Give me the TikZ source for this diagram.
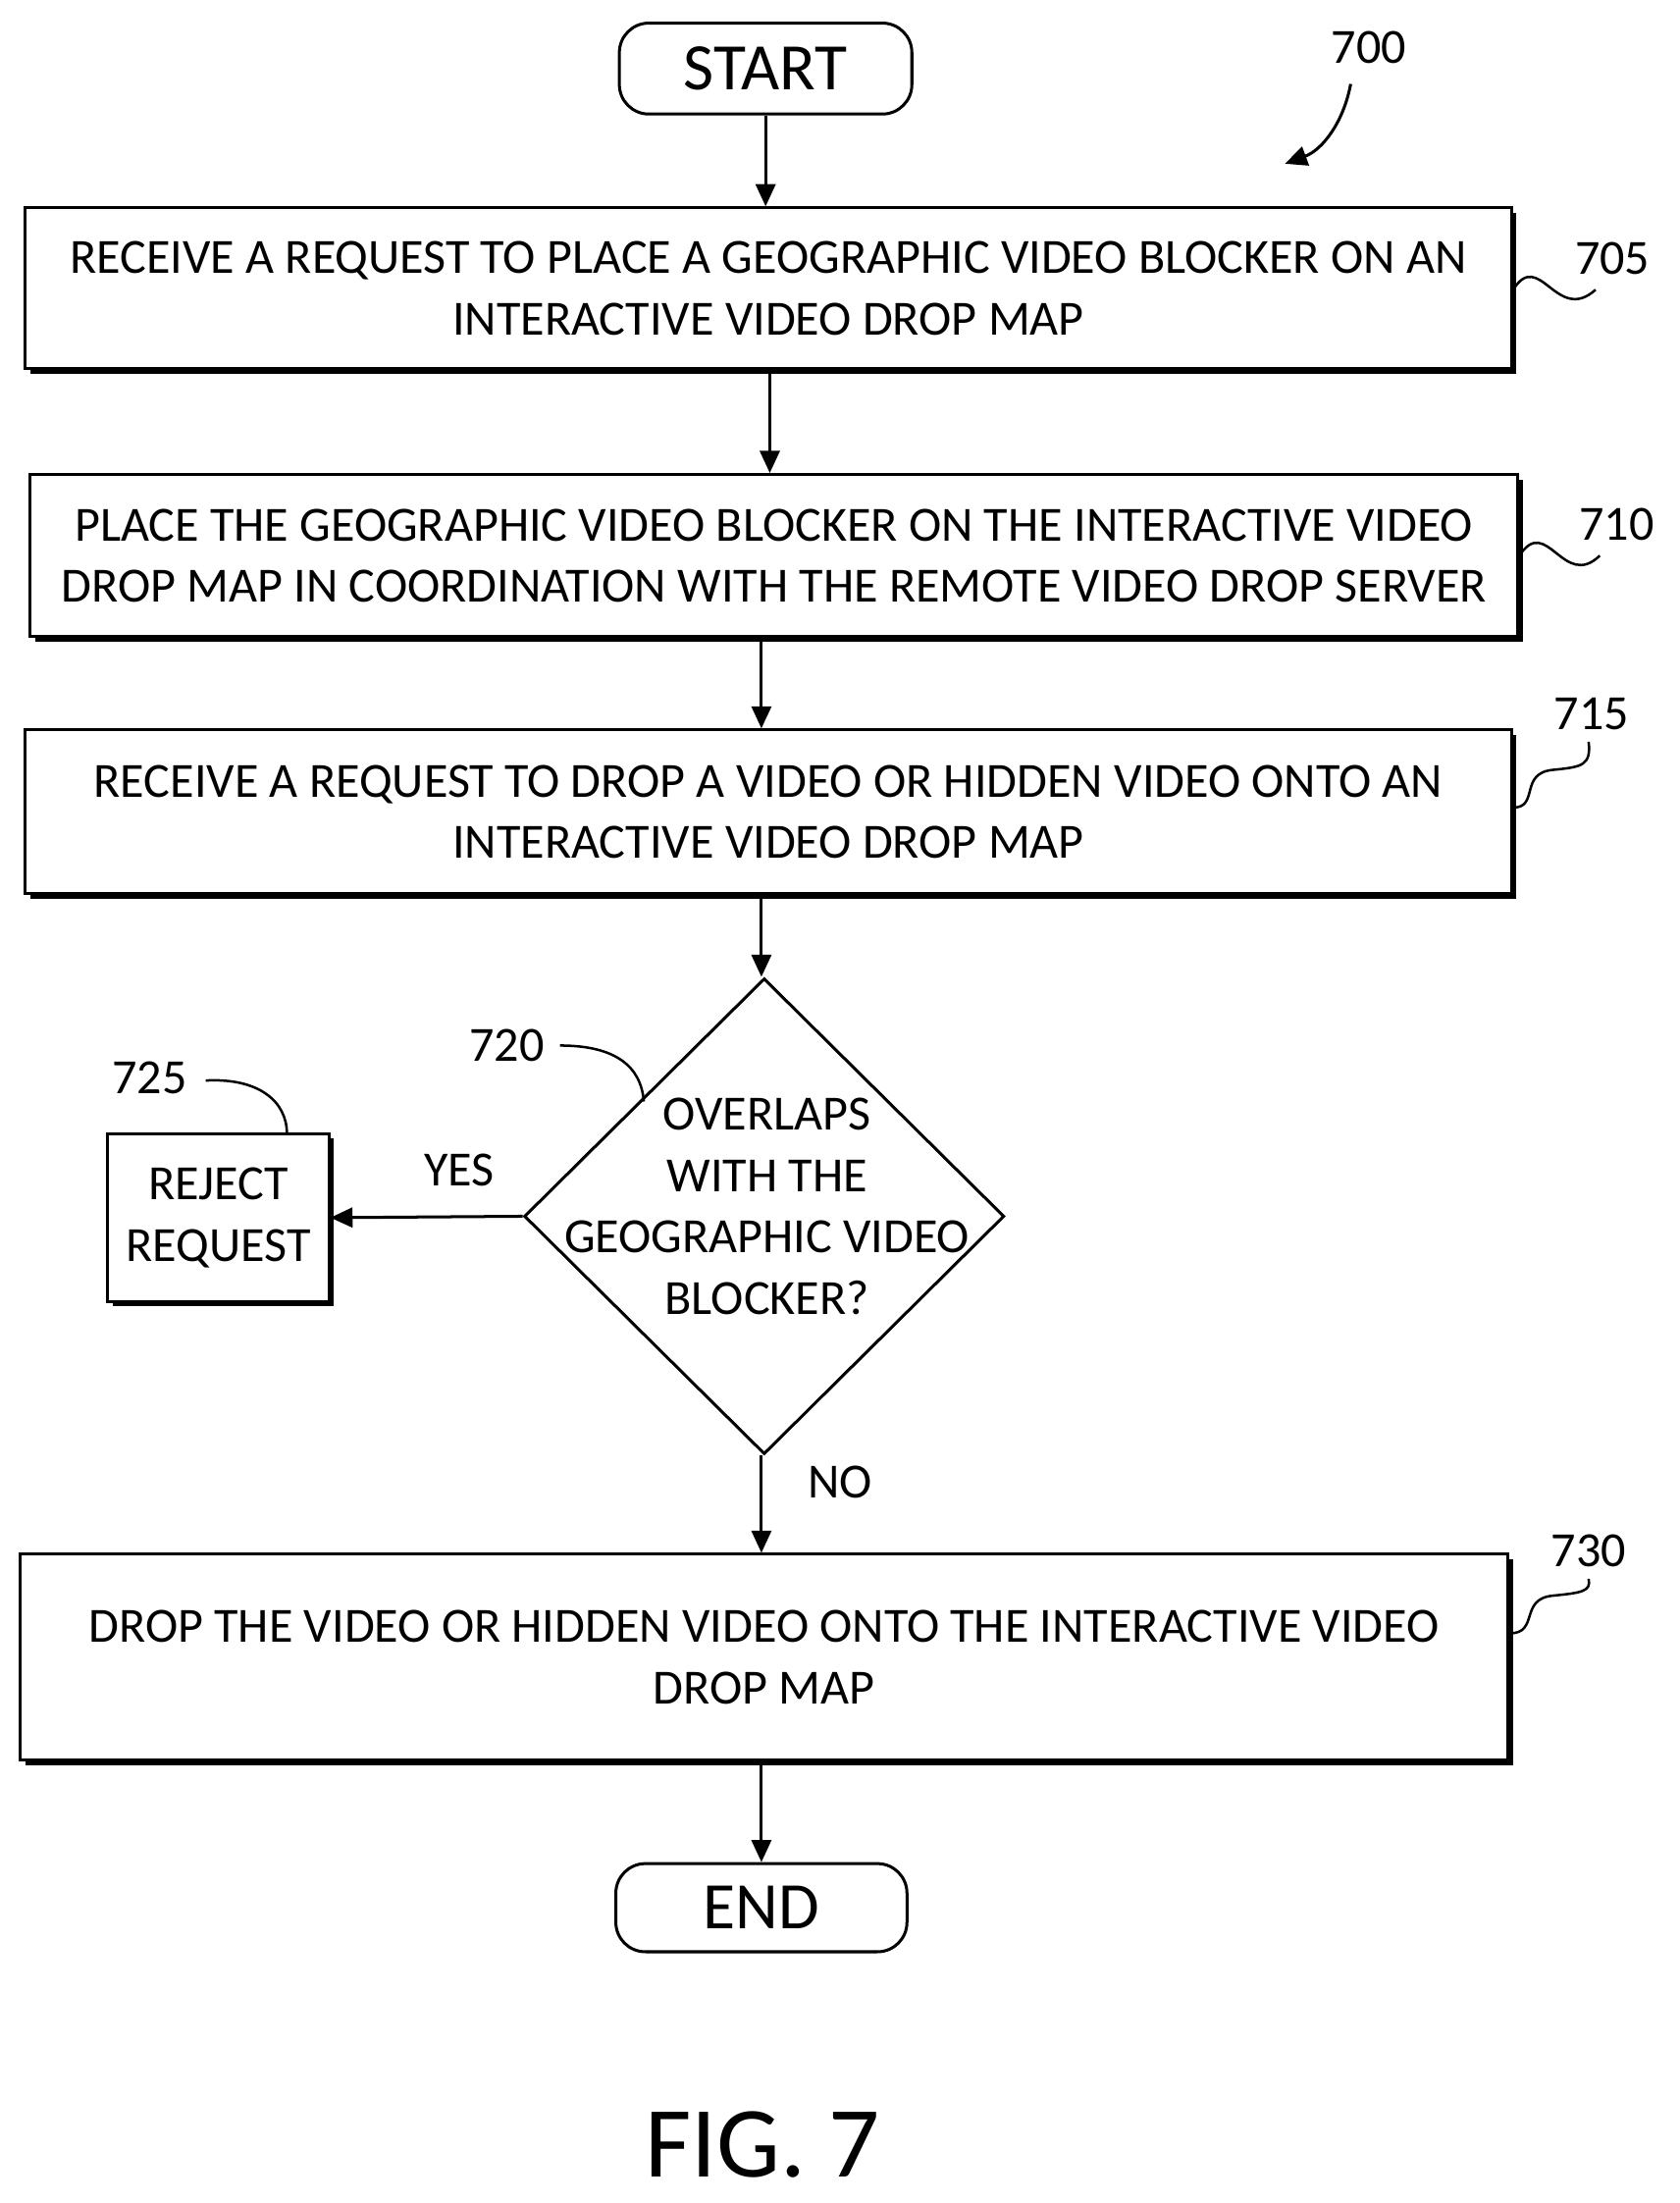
\documentclass[tikz,border=0pt]{standalone}
\usepackage{fontspec}
\setmainfont{Carlito}
\usetikzlibrary{shapes.geometric,arrows.meta,shadows}
\begin{document}
\begin{tikzpicture}[x=0.02cm,y=-0.02cm,
  box/.style={draw,line width=1.2pt,fill=white,align=center,font=\fontsize{20}{25}\selectfont,inner sep=0pt,
    general shadow={fill=black,shadow xshift=2pt,shadow yshift=-2pt}},
  term/.style={draw,line width=1.2pt,rounded corners=12pt,font=\fontsize{27}{30}\selectfont,inner sep=0pt},
  arr/.style={line width=1.2pt,-{Triangle[length=9pt,width=8pt]}},
  lbl/.style={font=\fontsize{20}{22}\selectfont},
  lead/.style={line width=1pt}]
\useasboundingbox (0,0) rectangle (1200,1574);
\node[term,minimum width=209*0.02cm,minimum height=65*0.02cm] (start) at (547,49) {START};
\node[box,minimum width=1062*0.02cm,minimum height=115*0.02cm] (b705) at (549,206) {RECEIVE A REQUEST TO PLACE A GEOGRAPHIC VIDEO BLOCKER ON AN\\INTERACTIVE VIDEO DROP MAP};
\node[box,minimum width=1063*0.02cm,minimum height=116*0.02cm] (b710) at (553,397) {PLACE THE GEOGRAPHIC VIDEO BLOCKER ON THE INTERACTIVE VIDEO\\DROP MAP IN COORDINATION WITH THE REMOTE VIDEO DROP SERVER};
\node[box,minimum width=1062*0.02cm,minimum height=117*0.02cm] (b715) at (549,580) {RECEIVE A REQUEST TO DROP A VIDEO OR HIDDEN VIDEO ONTO AN\\INTERACTIVE VIDEO DROP MAP};
\node[draw,line width=1.2pt,diamond,minimum width=343*0.02cm,minimum height=340*0.02cm,inner sep=0pt] (d720) at (546,869) {};
\node[align=center,font=\fontsize{20}{25}\selectfont] at (548,862) {OVERLAPS\\WITH THE\\GEOGRAPHIC VIDEO\\BLOCKER?};
\node[box,minimum width=158*0.02cm,minimum height=120*0.02cm] (b725) at (156,870) {REJECT\\REQUEST};
\node[box,minimum width=1063*0.02cm,minimum height=147*0.02cm] (b730) at (546,1184) {DROP THE VIDEO OR HIDDEN VIDEO ONTO THE INTERACTIVE VIDEO\\DROP MAP};
\node[term,minimum width=208*0.02cm,minimum height=63*0.02cm] (end) at (544,1363) {END};
\node[font=\fontsize{41}{44}\selectfont] (fig) at (545,1532) {FIG. 7};
\draw[arr] (start.south) -- (b705.north -| start.south);
\draw[arr] (b705.south -| 550,0) -- (b710.north -| 550,0);
\draw[arr] (b710.south -| 544,0) -- (b715.north -| 544,0);
\draw[arr] (b715.south -| 544,0) -- (d720.north -| 544,0);
\draw[arr] (d720.west) -- (b725.east);
\draw[arr] (d720.south -| 544,0) -- (b730.north -| 544,0);
\draw[arr] (b730.south -| 544,0) -- (end.north -| 544,0);
\node[lbl] (yes) at (328,836) {YES};
\node[lbl] (no) at (600,1059) {NO};
\node[lbl] (l700) at (978,34) {700};
\coordinate (a700) at (965,60);
\coordinate (e700) at (918,117);
\draw[arr] (a700) .. controls (960,87) and (945,107) .. (e700);
\node[lbl] (l705) at (1152,185) {705};
\draw[lead] (b705.east |- 0,207) .. controls (1100,177) and (1112,232) .. (1140,207);
\node[lbl] (l710) at (1155,375) {710};
\draw[lead] (b710.east |- 0,397) .. controls (1105,367) and (1117,422) .. (1143,397);
\node[lbl] (l715) at (1137,510) {715};
\draw[lead] (b715.east |- 0,577) .. controls (1100,577) and (1085,552) .. (1110,550) .. controls (1130,548) and (1137,547) .. (1135,530);
\node[lbl] (l720) at (362,747) {720};
\draw[lead] (400,747) .. controls (440,747) and (458,762) .. (460,787);
\node[lbl] (l725) at (107,770) {725};
\draw[lead] (147,772) .. controls (185,770) and (205,787) .. (205,810);
\node[lbl] (l730) at (1135,1108) {730};
\draw[lead] (b730.east |- 0,1167) .. controls (1100,1167) and (1085,1142) .. (1110,1140) .. controls (1130,1138) and (1137,1137) .. (1135,1128);
\end{tikzpicture}
\end{document}
